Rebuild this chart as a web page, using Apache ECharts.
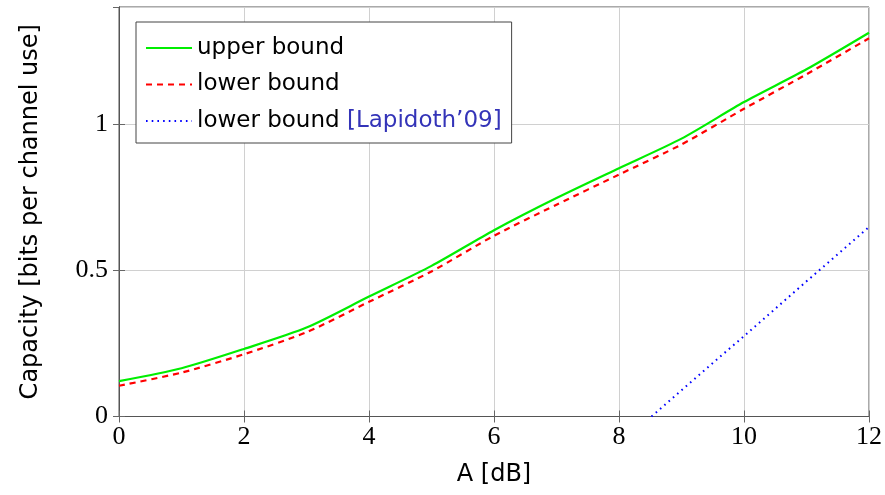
<!DOCTYPE html>
<html>
<head>
<meta charset="utf-8">
<script src="https://cdn.jsdelivr.net/npm/echarts@6/dist/echarts.min.js"></script>
<style>html,body{margin:0;padding:0;background:#fff}#main{width:885px;height:495px}</style>
</head>
<body>
<div id="main"></div>
<script>
var xs = [0, 1, 2, 3, 4, 5, 6, 7, 8, 9, 10, 11, 12];
var upperBound = [0.121, 0.165, 0.231, 0.304, 0.41, 0.515, 0.637, 0.747, 0.849, 0.95, 1.075, 1.187, 1.312];
var lowerBound = [0.105, 0.15, 0.213, 0.288, 0.392, 0.496, 0.618, 0.724, 0.827, 0.93, 1.052, 1.17, 1.293];
var lapidothX = [8.52, 9, 10, 11, 12];
var lapidothY = [0, 0.09, 0.275, 0.462, 0.648];
var names = ['upper bound', 'lower bound', 'lower bound [Lapidoth\u201909]'];

function pairs(x, y) {
    return x.map(function (v, i) { return [v, y[i]]; });
}

var tickStyle = { show: true, inside: true, length: 6, lineStyle: { color: '#666', width: 1 } };
var sans = 'DejaVu Sans';
var serif = 'Liberation Serif';

var myChart = echarts.init(document.getElementById('main'));
myChart.setOption({
    animation: false,
    grid: {
        left: 119, right: 16, top: 7, bottom: 78.5,
        show: true, borderColor: '#555', borderWidth: 1
    },
    legend: {
        orient: 'vertical',
        left: 136, top: 22,
        data: names,
        itemWidth: 46, itemHeight: 14, itemGap: 10.5,
        padding: [13, 10, 9, 9],
        borderColor: '#444', borderWidth: 1, borderRadius: 0,
        backgroundColor: '#fff',
        itemStyle: { opacity: 0 },
        lineStyle: { width: 2 },
        formatter: function (name) {
            var i = name.indexOf('[');
            if (i < 0) return name;
            return name.slice(0, i) + '{c|' + name.slice(i) + '}';
        },
        textStyle: {
            fontFamily: sans, fontSize: 23, color: '#000', lineHeight: 26,
            rich: { c: { fontFamily: sans, fontSize: 23, color: '#3434b8', lineHeight: 26 } }
        }
    },
    xAxis: [{
        type: 'value', min: 0, max: 12, interval: 2,
        name: 'A [dB]', nameLocation: 'middle', nameGap: 46,
        nameTextStyle: { fontFamily: sans, fontSize: 24, color: '#000' },
        axisLine: { lineStyle: { color: '#555' } },
        axisTick: tickStyle,
        axisLabel: { fontFamily: serif, fontSize: 26, color: '#000', margin: 8 },
        splitLine: { show: true, lineStyle: { color: '#d0d0d0', width: 1 } }
    }, {
        type: 'value', position: 'top', min: 0, max: 12, interval: 2,
        axisLine: { lineStyle: { color: '#555' } },
        axisTick: tickStyle,
        axisLabel: { show: false },
        splitLine: { show: false }
    }],
    yAxis: [{
        type: 'value', min: 0, max: 1.4, interval: 0.5,
        name: 'Capacity [bits per channel use]', nameLocation: 'middle', nameGap: 76,
        nameTextStyle: { fontFamily: sans, fontSize: 24, color: '#000' },
        axisLine: { show: true, lineStyle: { color: '#555' } },
        axisTick: tickStyle,
        axisLabel: { fontFamily: serif, fontSize: 26, color: '#000', margin: 11, showMaxLabel: false },
        splitLine: { show: true, lineStyle: { color: '#d0d0d0', width: 1 } }
    }, {
        type: 'value', position: 'right', min: 0, max: 1.4, interval: 0.5,
        axisLine: { show: true, lineStyle: { color: '#555' } },
        axisTick: tickStyle,
        axisLabel: { show: false },
        splitLine: { show: false }
    }],
    series: [{
        name: names[0], type: 'line', symbol: 'none', smooth: 0.25,
        data: pairs(xs, upperBound),
        lineStyle: { color: '#00ee00', width: 2.2 },
        itemStyle: { color: '#00ee00' }
    }, {
        name: names[1], type: 'line', symbol: 'none', smooth: 0.25,
        data: pairs(xs, lowerBound),
        lineStyle: { color: '#ff0000', width: 2.2, type: [6, 5] },
        itemStyle: { color: '#ff0000' }
    }, {
        name: names[2], type: 'line', symbol: 'none',
        data: pairs(lapidothX, lapidothY),
        lineStyle: { color: '#0000ff', width: 2, type: [1.6, 4.1] },
        itemStyle: { color: '#0000ff' }
    }]
});
</script>
</body>
</html>
